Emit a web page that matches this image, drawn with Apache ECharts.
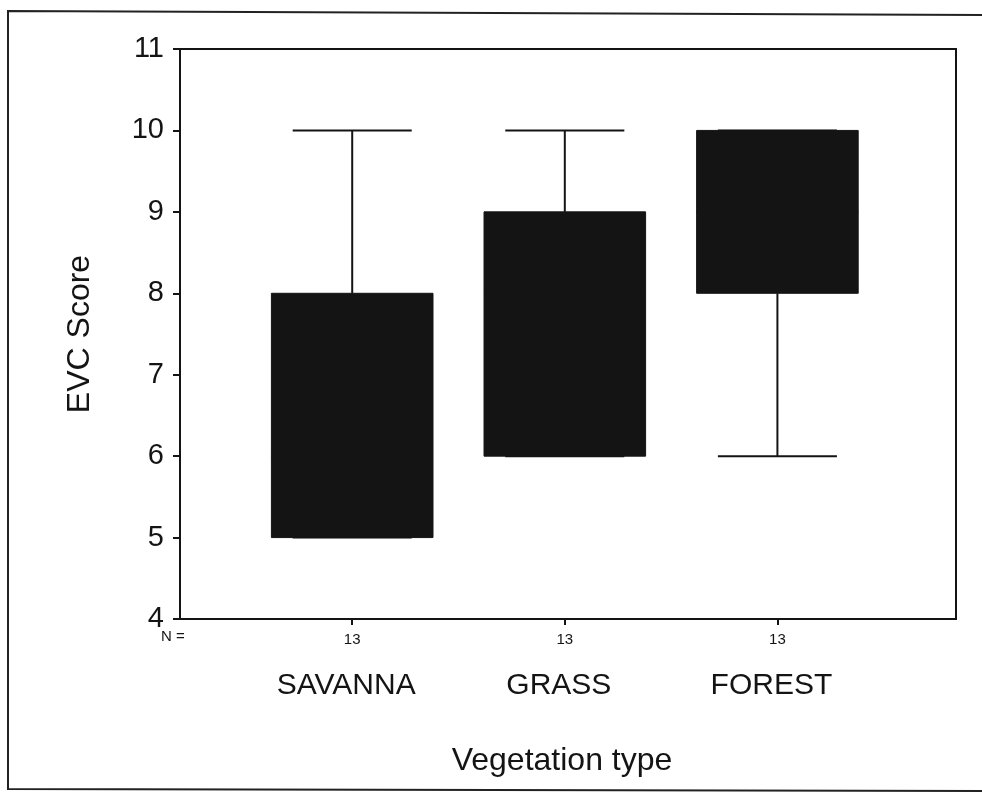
<!DOCTYPE html>
<html>
<head>
<meta charset="utf-8">
<title>EVC Score by vegetation type</title>
<script src="https://cdn.jsdelivr.net/npm/echarts@6/dist/echarts.min.js"></script>
<style>
  html, body { margin: 0; padding: 0; background: #fff; }
  #chart { width: 982px; height: 796px; }
</style>
</head>
<body>
<div id="chart"></div>
<script>
// values
const categories = ['SAVANNA', 'GRASS', 'FOREST']
const nCounts = [13, 13, 13]
const whiskerLow = [5, 6, 6]
const q1 = [5, 6, 8]
const median = [6, 8, 9]   // hidden by the black fill, rough guess
const q3 = [8, 9, 10]
const whiskerHigh = [10, 10, 10]
const yTicks = [4, 5, 6, 7, 8, 9, 10, 11]

const ink = '#141414'
const font = '"Liberation Sans", Arial, sans-serif'

const boxData = categories.map((c, i) => [i + 1, whiskerLow[i], q1[i], median[i], q3[i], whiskerHigh[i]])

const chart = echarts.init(document.getElementById('chart'))

function renderBox (params, api) {
  const x = api.value(0)
  const unit = api.size([1, 0])[0]
  const boxHalf = unit * 0.38
  const capHalf = unit * 0.28
  const pLow = api.coord([x, api.value(1)])
  const pQ1 = api.coord([x, api.value(2)])
  const pMed = api.coord([x, api.value(3)])
  const pQ3 = api.coord([x, api.value(4)])
  const pHigh = api.coord([x, api.value(5)])
  const cx = pQ1[0]
  const lineStyle = { stroke: ink, lineWidth: 2, fill: null }
  return {
    type: 'group',
    children: [
      { type: 'line', shape: { x1: cx, y1: pHigh[1], x2: cx, y2: pQ3[1] }, style: lineStyle },
      { type: 'line', shape: { x1: cx, y1: pQ1[1], x2: cx, y2: pLow[1] }, style: lineStyle },
      { type: 'line', shape: { x1: cx - capHalf, y1: pHigh[1], x2: cx + capHalf, y2: pHigh[1] }, style: lineStyle },
      { type: 'line', shape: { x1: cx - capHalf, y1: pLow[1], x2: cx + capHalf, y2: pLow[1] }, style: lineStyle },
      {
        type: 'rect',
        shape: { x: cx - boxHalf, y: pQ3[1], width: boxHalf * 2, height: pQ1[1] - pQ3[1] },
        style: { fill: ink, stroke: ink, lineWidth: 1 }
      },
      { type: 'line', shape: { x1: cx - boxHalf, y1: pMed[1], x2: cx + boxHalf, y2: pMed[1] }, style: lineStyle }
    ]
  }
}

const option = {
  animation: false,
  backgroundColor: '#fff',
  textStyle: { fontFamily: font, color: ink },
  grid: {
    left: 180,
    right: 26,
    top: 49,
    bottom: 177,
    show: true,
    borderColor: ink,
    borderWidth: 2,
    backgroundColor: 'transparent'
  },
  xAxis: [
    {
      type: 'value',
      min: 0.19,
      max: 3.84,
      axisLine: { show: true, lineStyle: { color: ink, width: 2 } },
      axisTick: { show: true, customValues: [1, 2, 3], length: 6, inside: false, lineStyle: { color: ink, width: 2 } },
      axisLabel: {
        customValues: [1, 2, 3],
        formatter: v => String(nCounts[Math.round(v) - 1]),
        fontSize: 15,
        color: ink,
        margin: 13
      },
      splitLine: { show: false }
    },
    {
      type: 'value',
      position: 'bottom',
      min: 0.19,
      max: 3.84,
      axisLine: { show: false },
      axisTick: { show: false },
      axisLabel: {
        customValues: [1, 2, 3],
        formatter: v => categories[Math.round(v) - 1],
        fontSize: 30,
        color: ink,
        margin: 52,
        padding: [0, 12, 0, 0]
      },
      splitLine: { show: false },
      name: 'Vegetation type',
      nameLocation: 'middle',
      nameGap: 126,
      nameTextStyle: { fontSize: 32, color: ink, fontFamily: font, padding: [0, 12, 0, 0] }
    }
  ],
  yAxis: {
    type: 'value',
    min: yTicks[0],
    max: yTicks[yTicks.length - 1],
    interval: 1,
    axisLine: { show: true, lineStyle: { color: ink, width: 2 } },
    axisTick: { show: true, length: 7, lineStyle: { color: ink, width: 2 } },
    axisLabel: { fontSize: 29, color: ink, margin: 16 },
    splitLine: { show: false },
    name: 'EVC Score',
    nameLocation: 'middle',
    nameGap: 78,
    nameTextStyle: { fontSize: 32, color: ink, fontFamily: font, padding: [0, 0, 6, 0] }
  },
  graphic: [
    // scanned page frame
    {
      type: 'polyline',
      shape: { points: [[990, 15], [8, 11], [8, 789], [990, 791]] },
      style: { stroke: '#222', lineWidth: 2, fill: null }
    },
    {
      type: 'text',
      left: 161,
      top: 629,
      style: { text: 'N =', fontSize: 15, fill: ink, fontFamily: font }
    }
  ],
  series: [
    {
      type: 'custom',
      xAxisIndex: 0,
      renderItem: renderBox,
      encode: { x: 0, y: [1, 2, 3, 4, 5] },
      data: boxData
    }
  ]
}

chart.setOption(option)
</script>
</body>
</html>
